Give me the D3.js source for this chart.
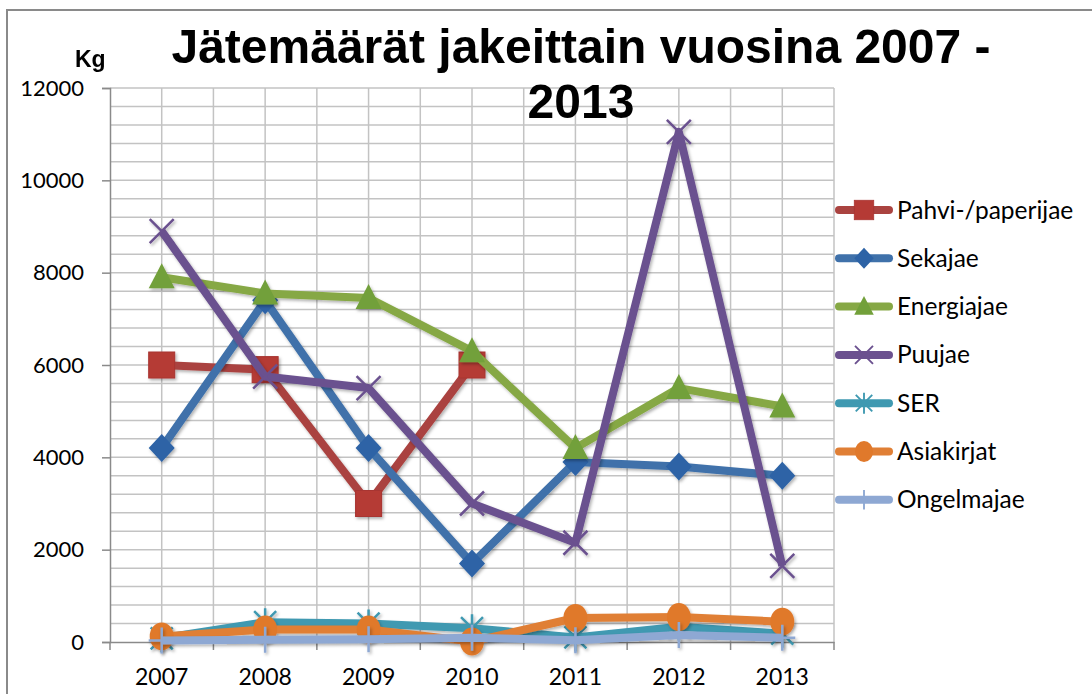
<!DOCTYPE html>
<meta charset="utf-8">
<html>
<head>
    <script src="https://d3js.org/d3.v7.min.js"></script>
    <style>
        body { margin: 0; background: #fff; }
        text { font-family: Lato, "Open Sans", sans-serif; fill: #000; }
    </style>
</head>
<body>
<script>

    // vuodet ja jakeet (kg)
    var vuodet = ["2007", "2008", "2009", "2010", "2011", "2012", "2013"];
    var pahvi = [6000, 5900, 3000, 6000, null, null, null];
    var sekajae = [4200, 7400, 4200, 1700, 3900, 3800, 3600];
    var energiajae = [7900, 7550, 7450, 6300, 4200, 5500, 5100];
    var puujae = [8900, 5750, 5500, 3000, 2150, 11050, 1650];
    var ser = [80, 430, 400, 300, 100, 330, 180];
    var asiakirjat = [120, 270, 270, 10, 520, 540, 440];
    var ongelmajae = [30, 50, 60, 90, 40, 150, 90];

    var nimet = ["Pahvi-/paperijae", "Sekajae", "Energiajae", "Puujae", "SER", "Asiakirjat", "Ongelmajae"];
    var yTicks = [0, 2000, 4000, 6000, 8000, 10000, 12000];

    var sarjat = [
        { nimi: nimet[0], arvot: pahvi, viiva: "#AA4340", merkki: "nelio", vari: "#B53A35" },
        { nimi: nimet[1], arvot: sekajae, viiva: "#3F71AA", merkki: "vinoneliö", vari: "#2D63A6" },
        { nimi: nimet[2], arvot: energiajae, viiva: "#86A845", merkki: "kolmio", vari: "#72A03A" },
        { nimi: nimet[3], arvot: puujae, viiva: "#6B518F", merkki: "risti", vari: "#6B518F" },
        { nimi: nimet[4], arvot: ser, viiva: "#3F99B1", merkki: "tahti", vari: "#3F99B1" },
        { nimi: nimet[5], arvot: asiakirjat, viiva: "#E07F35", merkki: "pallo", vari: "#E0792B" },
        { nimi: nimet[6], arvot: ongelmajae, viiva: "#8EA8D3", merkki: "plus", vari: "#8EA8D3" }
    ];

    var leveys = 1092, korkeus = 694;

    var svg = d3.select("body").append("svg")
        .attr("width", leveys)
        .attr("height", korkeus);

    var defs = svg.append("defs");
    var varjo = defs.append("filter").attr("id", "varjo")
        .attr("x", "-50%").attr("y", "-50%").attr("width", "200%").attr("height", "200%");
    varjo.append("feDropShadow")
        .attr("dx", 1.5).attr("dy", 2).attr("stdDeviation", 1.5)
        .attr("flood-color", "#000").attr("flood-opacity", 0.3);

    // kehys
    svg.append("path")
        .attr("d", "M7,700 L7,10 L1100,10")
        .attr("fill", "none")
        .attr("stroke", "#8a8a8a")
        .attr("stroke-width", 2);

    var x = d3.scaleBand().domain(vuodet).range([110, 834]);
    var y = d3.scaleLinear().domain([0, 12000]).range([642, 88]);
    var bw = x.bandwidth();
    var cx = function (v) { return x(v) + bw / 2; };

    // ruudukko
    var grid = svg.append("g").attr("stroke", "#c3c3c3").attr("stroke-width", 1.5);
    grid.selectAll("line.h")
        .data(d3.range(400, 12001, 400))
        .enter().append("line")
        .attr("x1", 110).attr("x2", 834)
        .attr("y1", function (d) { return y(d); })
        .attr("y2", function (d) { return y(d); });
    var pystyt = [];
    vuodet.forEach(function (v) { pystyt.push(x(v)); pystyt.push(cx(v)); });
    pystyt.push(x.range()[1]);
    grid.selectAll("line.v")
        .data(pystyt.slice(1))
        .enter().append("line")
        .attr("y1", y(0)).attr("y2", y(12000))
        .attr("x1", function (d) { return d; })
        .attr("x2", function (d) { return d; });

    // akselit
    var yAks = svg.append("g")
        .attr("transform", "translate(110,0)")
        .call(d3.axisLeft(y).tickValues(yTicks).tickFormat(d3.format("d")).tickSize(8).tickPadding(18));
    yAks.select(".domain").attr("stroke", "#8a8a8a").attr("stroke-width", 1.5);
    yAks.selectAll(".tick line").attr("stroke", "#8a8a8a").attr("stroke-width", 1.5);
    yAks.selectAll("text").style("font-size", "22px").style("font-family", "Lato");

    var xAks = svg.append("g")
        .attr("transform", "translate(0," + y(0) + ")")
        .call(d3.axisBottom(x).tickSize(0).tickPadding(27));
    xAks.select(".domain").attr("stroke", "#8a8a8a").attr("stroke-width", 1.5);
    xAks.selectAll("text").style("font-size", "23px").style("font-family", "Lato");
    xAks.selectAll("line.raja")
        .data(vuodet.map(function (v) { return x(v); }).concat([x.range()[1]]))
        .enter().append("line")
        .attr("class", "raja")
        .attr("x1", function (d) { return d; }).attr("x2", function (d) { return d; })
        .attr("y1", 0).attr("y2", 8)
        .attr("stroke", "#8a8a8a").attr("stroke-width", 1.5);

    // merkit
    function piirraMerkki(g, tyyppi, vari) {
        if (tyyppi === "nelio") {
            g.append("rect").attr("x", -13).attr("y", -13).attr("width", 26).attr("height", 26)
                .attr("fill", vari).attr("stroke", "#a83430").attr("stroke-width", 1);
        } else if (tyyppi === "vinoneliö") {
            g.append("path").attr("d", "M0,-14L13,0L0,14L-13,0Z").attr("fill", vari);
        } else if (tyyppi === "kolmio") {
            g.append("path").attr("d", "M0,-14L13,11L-13,11Z").attr("fill", vari);
        } else if (tyyppi === "risti") {
            g.append("path").attr("d", "M-12,-12L12,12M-12,12L12,-12")
                .attr("stroke", vari).attr("stroke-width", 2.5);
        } else if (tyyppi === "tahti") {
            g.append("path").attr("d", "M-11,-11L11,11M-11,11L11,-11M0,-14L0,14")
                .attr("stroke", vari).attr("stroke-width", 2.5);
        } else if (tyyppi === "pallo") {
            g.append("ellipse").attr("rx", 12).attr("ry", 14).attr("fill", vari);
        } else if (tyyppi === "plus") {
            g.append("path").attr("d", "M0,-13L0,13M-13,0L13,0")
                .attr("stroke", vari).attr("stroke-width", 2.5);
        }
    }

    var viiva = d3.line()
        .defined(function (d) { return d.arvo !== null; })
        .x(function (d) { return cx(d.vuosi); })
        .y(function (d) { return y(d.arvo); });

    sarjat.forEach(function (s) {
        var pisteet = vuodet.map(function (v, i) { return { vuosi: v, arvo: s.arvot[i] }; });
        var g = svg.append("g").attr("filter", "url(#varjo)");
        g.append("path")
            .datum(pisteet)
            .attr("d", viiva)
            .attr("fill", "none")
            .attr("stroke", s.viiva)
            .attr("stroke-width", 8)
            .attr("stroke-linejoin", "round");
        pisteet.filter(function (d) { return d.arvo !== null; }).forEach(function (d) {
            var m = g.append("g").attr("transform", "translate(" + cx(d.vuosi) + "," + y(d.arvo) + ")");
            piirraMerkki(m, s.merkki, s.vari);
        });
    });

    // selite
    var selite = svg.append("g");
    sarjat.forEach(function (s, i) {
        var yy = 210 + i * 48.3;
        var r = selite.append("g").attr("transform", "translate(0," + yy + ")");
        r.append("line").attr("x1", 839).attr("x2", 889)
            .attr("stroke", s.viiva).attr("stroke-width", 8).attr("stroke-linecap", "round");
        var m = r.append("g").attr("transform", "translate(864,0) scale(0.75)");
        piirraMerkki(m, s.merkki, s.vari);
        r.append("text").attr("x", 897).attr("dy", "0.35em")
            .style("font-size", "24.5px")
            .text(s.nimi);
    });

    // otsikko
    var otsikko = svg.append("text")
        .attr("text-anchor", "middle")
        .style("font-family", "'Liberation Sans', Arial, sans-serif")
        .style("font-weight", "bold")
        .style("font-size", "48px");
    otsikko.append("tspan").attr("x", 581).attr("y", 63).text("Jätemäärät jakeittain vuosina 2007 -");
    otsikko.append("tspan").attr("x", 581).attr("y", 118).text("2013");

    svg.append("text")
        .attr("x", 75).attr("y", 67)
        .style("font-family", "'Liberation Sans', Arial, sans-serif")
        .style("font-weight", "bold")
        .style("font-size", "23px")
        .text("Kg");

</script>
</body>
</html>
